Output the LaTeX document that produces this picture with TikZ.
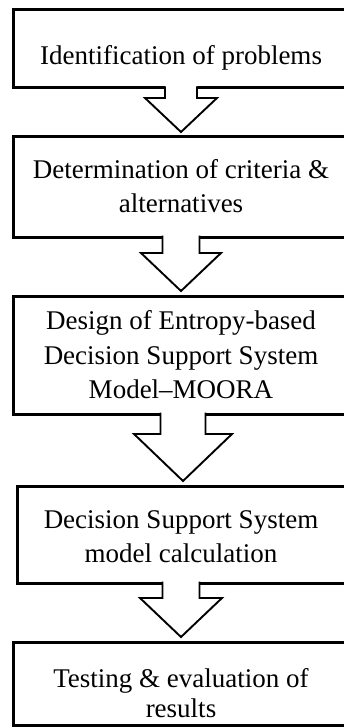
\documentclass[tikz,border=0pt]{standalone}
\usepackage{fontspec}
\setmainfont{Liberation Serif}
\usetikzlibrary{calc}
\tikzset{
  box/.style={draw=black, line width=3pt, fill=white, minimum width=336pt,
    inner sep=0pt, outer sep=0pt, anchor=north west},
  txt/.style={anchor=base, inner sep=0pt, font=\fontsize{27}{32}\selectfont},
  arrline/.style={draw=black, line width=1.9pt, line join=miter},
}
% #1 from box, #2 to box, #3 tip name, #4 shaft half width, #5 head half width, #6 head length
\newcommand\blockarrow[6]{%
  \coordinate (#3) at ($(#2.north)+(0,-5)$);
  \coordinate (#3t) at (#1.south -| #3);
  \fill[white] ($(#3t)+(-#4,-2.2)$) -- ($(#3)+(-#4,-#6)$) -- ($(#3)+(-#5,-#6)$) -- (#3)
    -- ($(#3)+(#5,-#6)$) -- ($(#3)+(#4,-#6)$) -- ($(#3t)+(#4,-2.2)$) -- cycle;
  \draw[arrline] ($(#3t)+(-#4,-1.5)$) -- ($(#3)+(-#4,-#6)$) -- ($(#3)+(-#5,-#6)$) -- (#3)
    -- ($(#3)+(#5,-#6)$) -- ($(#3)+(#4,-#6)$) -- ($(#3t)+(#4,-1.5)$);
}
\begin{document}
\begin{tikzpicture}[x=1pt,y=-1pt]
\useasboundingbox (0,0) rectangle (344,727);
\clip (0,0) rectangle (344,727);
\fill[white] (0,0) rectangle (344,727);

\node[box, minimum height=78] (b1) at (13,10) {};
\node[box, minimum height=100] (b2) at (13,137) {};
\node[box, minimum height=118] (b3) at (13,296) {};
\node[box, minimum height=97, minimum width=332pt] (b4) at (17,486) {};
\node[box, minimum height=83] (b5) at (13,642) {};

\node[txt] (t1) at (181,65) {Identification of problems};
\node[txt] (t2a) at (181,179) {Determination of criteria \&};
\node[txt] (t2b) at (181,212) {alternatives};
\node[txt] (t3a) at (181,329) {Design of Entropy-based};
\node[txt] (t3b) at (181,364) {Decision Support System};
\node[txt] (t3c) at (181,398) {Model–MOORA};
\node[txt] (t4a) at (181,528) {Decision Support System};
\node[txt] (t4b) at (181,562) {model calculation};
\node[txt] (t5a) at (181,687) {Testing \& evaluation of};
\node[txt] (t5b) at (181,717) {results};

\blockarrow{b1}{b2}{a1}{16}{36}{34}
\blockarrow{b2}{b3}{a2}{18.5}{40}{38}
\blockarrow{b3}{b4}{a3}{22.5}{49}{47}
\blockarrow{b4}{b5}{a4}{18.5}{41}{39}
\end{tikzpicture}
\end{document}
